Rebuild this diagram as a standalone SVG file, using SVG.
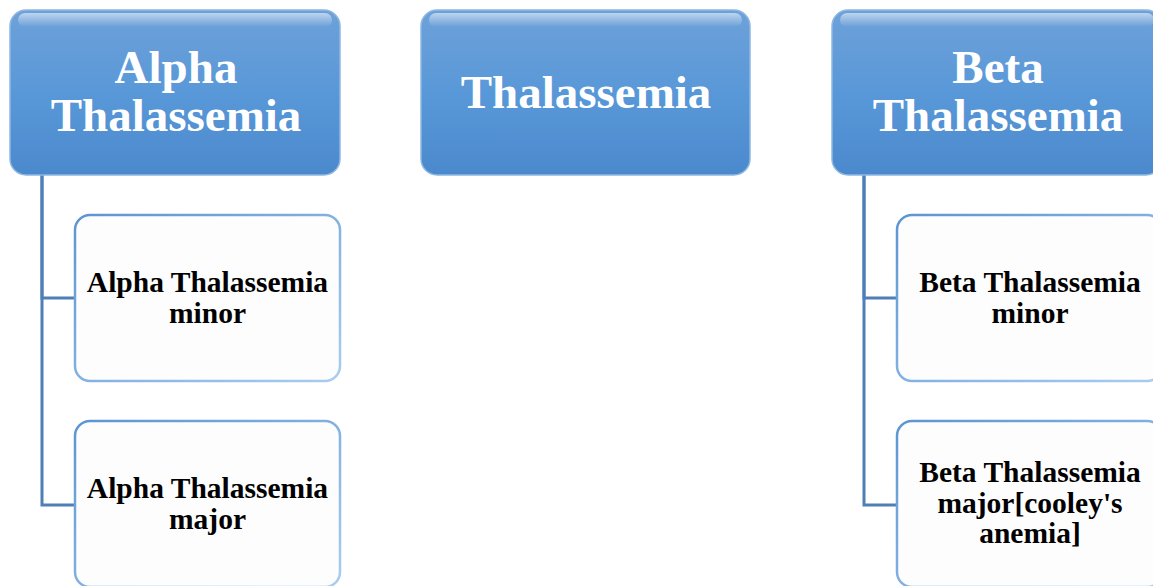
<svg xmlns="http://www.w3.org/2000/svg" width="1153" height="586" viewBox="0 0 1153 586">
<defs>
<linearGradient id="topFill" x1="0" y1="0" x2="0" y2="1">
<stop offset="0" stop-color="#6ea1d9"/>
<stop offset="0.5" stop-color="#5998d8"/>
<stop offset="1" stop-color="#4b89cd"/>
</linearGradient>
<linearGradient id="gloss" x1="0" y1="0" x2="0" y2="1">
<stop offset="0" stop-color="#ffffff" stop-opacity="0.55"/>
<stop offset="1" stop-color="#ffffff" stop-opacity="0"/>
</linearGradient>
<linearGradient id="childStroke" x1="0" y1="0" x2="1" y2="1">
<stop offset="0" stop-color="#5b95d2"/>
<stop offset="1" stop-color="#a9cdf0"/>
</linearGradient>
<style>
.top rect.box{fill:url(#topFill);stroke:#8fb8e3;stroke-width:1.5}
.top rect.gl{fill:url(#gloss)}
.top text{font-family:"Liberation Serif","Times New Roman",serif;font-weight:bold;font-size:47px;fill:#ffffff;text-anchor:middle}
.child rect{fill:#fdfdfd;stroke:url(#childStroke);stroke-width:2.5}
.child text{font-family:"Liberation Serif","Times New Roman",serif;font-weight:bold;font-size:29.5px;fill:#000000;text-anchor:middle}
.conn path{fill:none;stroke:#4e7fb6;stroke-width:3}
</style>
</defs>
<g class="conn" id="connectors">
<path d="M42,175 V298 H75"/>
<path d="M42,175 V505 H75"/>
<path d="M864,175 V298 H897"/>
<path d="M864,175 V505 H897"/>
</g>
<g class="top" id="alpha">
<rect class="box" x="10" y="10" width="330" height="165" rx="16"/>
<rect class="gl" x="18" y="13" width="314" height="14" rx="7"/>
<text x="176" y="83">Alpha</text>
<text x="176" y="131">Thalassemia</text>
</g>
<g class="top" id="thalassemia">
<rect class="box" x="421" y="10" width="329" height="165" rx="16"/>
<rect class="gl" x="429" y="13" width="313" height="14" rx="7"/>
<text x="586" y="108">Thalassemia</text>
</g>
<g class="top" id="beta">
<rect class="box" x="832" y="10" width="330" height="165" rx="16"/>
<rect class="gl" x="840" y="13" width="314" height="14" rx="7"/>
<text x="998" y="83">Beta</text>
<text x="998" y="131">Thalassemia</text>
</g>
<g class="child" id="alpha-minor">
<rect x="75" y="215" width="265" height="166" rx="15"/>
<text x="207.5" y="292">Alpha Thalassemia</text>
<text x="207.5" y="323">minor</text>
</g>
<g class="child" id="alpha-major">
<rect x="75" y="421" width="265" height="166" rx="15"/>
<text x="207.5" y="498">Alpha Thalassemia</text>
<text x="207.5" y="529">major</text>
</g>
<g class="child" id="beta-minor">
<rect x="897" y="215" width="265" height="166" rx="15"/>
<text x="1030" y="292">Beta Thalassemia</text>
<text x="1030" y="323">minor</text>
</g>
<g class="child" id="beta-major">
<rect x="897" y="421" width="265" height="166" rx="15"/>
<text x="1030" y="482">Beta Thalassemia</text>
<text x="1030" y="513">major[cooley's</text>
<text x="1030" y="543">anemia]</text>
</g>
</svg>
